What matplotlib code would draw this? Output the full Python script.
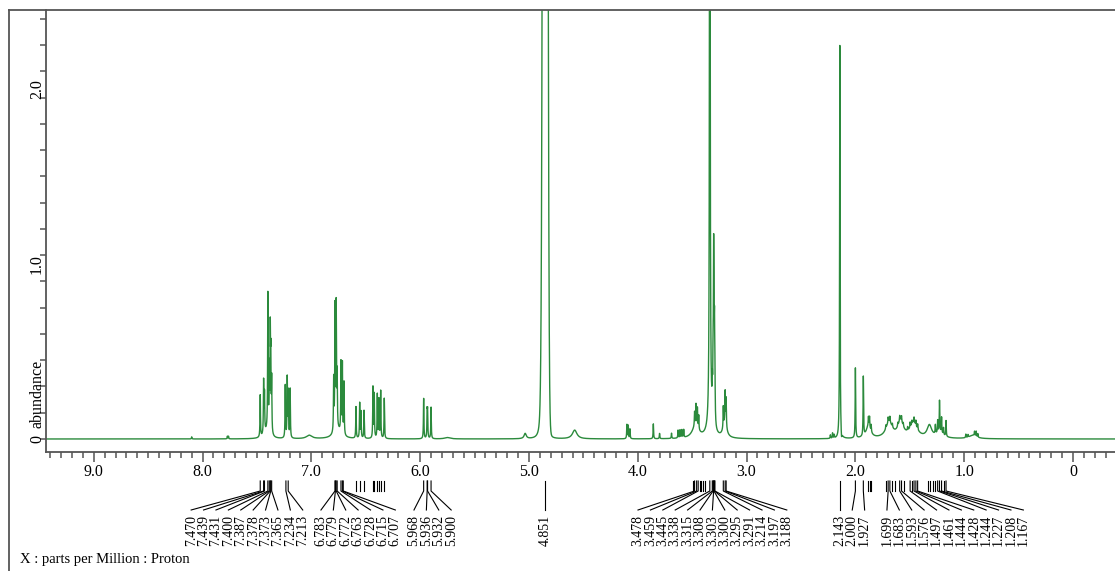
import numpy as np
import matplotlib
matplotlib.use("Agg")
import matplotlib.pyplot as plt
from matplotlib import transforms
from matplotlib.lines import Line2D
from matplotlib.ticker import MultipleLocator, FuncFormatter

W_PX, H_PX = 1115, 571
GREEN = "#2b8a3c"
GREY = "#555555"

# sharp lines: position (ppm) and height (abundance)
line_ppm = [8.100, 7.772, 7.762,
            7.470, 7.439, 7.431, 7.400, 7.387, 7.378, 7.373, 7.365,
            7.240, 7.222, 7.212, 7.195,
            6.795, 6.783, 6.772, 6.763, 6.728, 6.715, 6.700,
            6.590, 6.556, 6.544, 6.516,
            6.434, 6.422, 6.394, 6.379, 6.363, 6.330,
            5.968, 5.936, 5.932, 5.900,
            4.100, 4.088, 4.072, 3.857, 3.800, 3.690,
            3.630, 3.612, 3.595, 3.578,
            3.478, 3.465, 3.452, 3.440,
            3.338, 3.315, 3.308, 3.303, 3.300, 3.295, 3.291,
            3.214, 3.197, 3.188,
            2.230, 2.210, 2.195, 2.143, 2.000, 1.927,
            1.880, 1.870, 1.855,
            1.720, 1.699, 1.683, 1.660, 1.610, 1.593, 1.576, 1.560,
            1.520, 1.497, 1.480, 1.461, 1.444, 1.428,
            1.265, 1.244, 1.227, 1.208, 1.190, 1.167,
            0.985, 0.965, 0.905, 0.890, 0.875]
line_height = [0.012, 0.015, 0.015,
               0.24, 0.30, 0.22, 0.78, 0.35, 0.55, 0.40, 0.30,
               0.30, 0.34, 0.26, 0.28,
               0.30, 0.70, 0.70, 0.30, 0.40, 0.40, 0.30,
               0.18, 0.20, 0.15, 0.16,
               0.29, 0.25, 0.25, 0.22, 0.27, 0.23,
               0.23, 0.14, 0.14, 0.18,
               0.08, 0.075, 0.055, 0.085, 0.03, 0.03,
               0.045, 0.045, 0.045, 0.045,
               0.08, 0.12, 0.11, 0.08,
               8.0, 0.15, 0.30, 0.75, 0.50, 0.45, 0.22,
               0.12, 0.18, 0.16,
               0.02, 0.03, 0.02, 2.25, 0.40, 0.34,
               0.05, 0.06, 0.04,
               0.02, 0.03, 0.03, 0.02, 0.02, 0.03, 0.03, 0.02,
               0.02, 0.03, 0.02, 0.03, 0.03, 0.03,
               0.05, 0.07, 0.18, 0.09, 0.04, 0.09,
               0.02, 0.015, 0.025, 0.03, 0.02]
LINE_HWHM = 0.0025

# solvent water signal (gaussian): position, height, sigma
water_ppm, water_height, water_sigma = 4.851, 20.0, 0.014

# broad features: position, height, half width (ppm)
hump_ppm = [7.410, 7.020, 6.760, 5.750, 5.035, 4.888, 4.820, 4.580,
            3.470, 3.330, 3.200, 2.128, 1.880, 1.690, 1.585, 1.465,
            1.320, 1.225, 0.920]
hump_height = [0.04, 0.02, 0.05, 0.008, 0.03, 0.22, 0.08, 0.05,
               0.07, 0.08, 0.08, -0.045, 0.07, 0.09, 0.09, 0.085,
               0.07, 0.03, 0.02]
hump_hwhm = [0.03, 0.03, 0.04, 0.03, 0.012, 0.014, 0.012, 0.025,
             0.035, 0.03, 0.02, 0.004, 0.025, 0.035, 0.03, 0.04,
             0.025, 0.04, 0.04]

# picked peaks printed under the axis, one list per group
label_groups = [
    ["7.470", "7.439", "7.431", "7.400", "7.387", "7.378", "7.373", "7.365", "7.234", "7.213"],
    ["6.783", "6.779", "6.772", "6.763", "6.728", "6.715", "6.707"],
    ["5.968", "5.936", "5.932", "5.900"],
    ["4.851"],
    ["3.478", "3.459", "3.445", "3.338", "3.315", "3.308", "3.303", "3.300",
     "3.295", "3.291", "3.214", "3.197", "3.188"],
    ["2.143", "2.000", "1.927"],
    ["1.699", "1.683", "1.593", "1.576", "1.497", "1.461", "1.444", "1.428",
     "1.244", "1.227", "1.208", "1.167"],
]
label_start = [8.105, 6.912, 6.057, 4.851, 3.998, 2.143, 1.710]
unlabeled_bars = [6.590, 6.556, 6.516, 6.434, 6.422, 6.394, 6.379, 6.363, 6.330,
                  3.492, 3.432, 3.418, 3.405, 3.380,
                  1.880, 1.868, 1.855, 1.720, 1.660, 1.640, 1.550, 1.480,
                  1.330, 1.310, 1.290, 1.265, 1.190]


def lorentz(x, pos, h, w):
    pos = np.asarray(pos)[:, None]
    h = np.asarray(h)[:, None]
    w = np.asarray(w)[:, None]
    return (h / (1 + ((x[None, :] - pos) / w) ** 2)).sum(axis=0)


def fy(px):
    return 1 - px / H_PX


def main():
    plt.rcParams["font.family"] = ["Liberation Serif", "DejaVu Serif"]
    fig = plt.figure(figsize=(W_PX / 100, H_PX / 100), dpi=100)
    ax = fig.add_axes([46 / W_PX, fy(452), (W_PX - 46) / W_PX, (452 - 10) / H_PX])

    x = np.linspace(9.6, -0.6, 60001)
    y = lorentz(x, line_ppm, line_height, [LINE_HWHM] * len(line_ppm))
    y += lorentz(x, hump_ppm, hump_height, hump_hwhm)
    y += water_height * np.exp(-0.5 * ((x - water_ppm) / water_sigma) ** 2)
    ax.plot(x, y, color=GREEN, lw=1.0)

    ax.set_xlim(9.439, -0.386)
    ax.set_ylim(-0.0743, 2.451)

    for side in ["top", "right"]:
        ax.spines[side].set_visible(False)
    for side in ["left", "bottom"]:
        ax.spines[side].set_color(GREY)
        ax.spines[side].set_linewidth(1.3)

    ax.xaxis.set_major_locator(MultipleLocator(1.0))
    ax.xaxis.set_minor_locator(MultipleLocator(0.1))
    ax.xaxis.set_major_formatter(FuncFormatter(lambda v, p: "0" if abs(v) < 1e-9 else f"{v:.1f}"))
    ax.tick_params(axis="x", which="major", length=7, width=1.1, color=GREY, labelsize=11.5, pad=2)
    ax.tick_params(axis="x", which="minor", length=4, width=1.1, color=GREY)

    ax.set_yticks(np.arange(0, 2.45, 0.15))
    ax.set_yticklabels([])
    ax.tick_params(axis="y", which="major", length=4, width=1.1, color=GREY)

    ytrans = transforms.blended_transform_factory(fig.transFigure, ax.transData)
    for val, txt in zip([0, 1, 2], ["0", "1.0", "2.0"]):
        fig.text(37 / W_PX, val, txt, rotation=90, ha="center", va="center",
                 fontsize=11.5, transform=ytrans)
    fig.text(37 / W_PX, fy(428), "abundance", rotation=90, ha="center", va="bottom", fontsize=11.5)
    fig.text(20 / W_PX, fy(560), "X : parts per Million : Proton", ha="left", va="center", fontsize=10.5)

    # frame around the page
    fig.add_artist(Line2D([8.5 / W_PX, 8.5 / W_PX], [0, fy(9.5)], color=GREY, lw=1.3))
    fig.add_artist(Line2D([8.5 / W_PX, 1], [fy(9.5), fy(9.5)], color=GREY, lw=1.3))

    # peak picking marks
    blend = transforms.blended_transform_factory(ax.transData, fig.transFigure)
    step = 12.4 / 108.8
    for labels, start in zip(label_groups, label_start):
        for i, lab in enumerate(labels):
            p = float(lab)
            lx = start - i * step
            ax.add_line(Line2D([p, p, lx], [fy(481), fy(491), fy(510)], transform=blend,
                               color="black", lw=0.8, clip_on=False))
            ax.text(lx, fy(515), lab, rotation=90, ha="center", va="top",
                    fontsize=10, transform=blend, clip_on=False)
    for p in unlabeled_bars:
        ax.add_line(Line2D([p, p], [fy(481), fy(491)], transform=blend,
                           color="black", lw=0.8, clip_on=False))

    fig.savefig("out.png", dpi=100)


if __name__ == "__main__":
    main()
